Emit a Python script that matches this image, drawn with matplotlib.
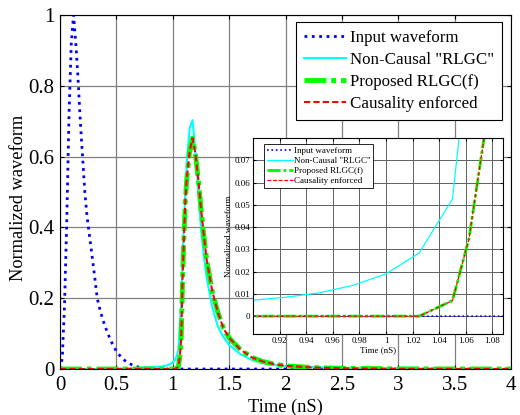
import matplotlib
matplotlib.use("Agg")
import matplotlib.pyplot as plt
from matplotlib.ticker import FuncFormatter

# Input waveform (blue dotted)
in_t = [0, 0.02, 0.04, 0.06, 0.08, 0.1, 0.12, 0.14, 0.16, 0.18, 0.2, 0.22, 0.24,
        0.26, 0.3, 0.33, 0.36, 0.4, 0.45, 0.5, 0.55, 0.6, 0.65, 0.7, 0.8, 0.9, 4.0]
in_v = [0, 0.03, 0.18, 0.42, 0.72, 0.92, 1.0, 0.92, 0.82, 0.7, 0.6, 0.5, 0.43,
        0.38, 0.28, 0.2, 0.16, 0.12, 0.08, 0.05, 0.03, 0.018, 0.01, 0.005, 0.001, 0, 0]

# Non-causal RLGC (cyan)
nc_t = [0, 0.3, 0.5, 0.7, 0.8, 0.9, 0.925, 0.95, 0.975, 1.0, 1.025, 1.05, 1.075,
        1.1, 1.125, 1.15, 1.175, 1.2, 1.225, 1.25, 1.275, 1.3, 1.35, 1.4, 1.45,
        1.5, 1.6, 1.7, 1.8, 1.9, 2.0, 2.5, 3.0, 4.0]
nc_v = [0, 0, 0.001, 0.003, 0.005, 0.0072, 0.0085, 0.0105, 0.0138, 0.019, 0.0284,
        0.0526, 0.19, 0.42, 0.59, 0.68, 0.703, 0.62, 0.51, 0.40, 0.32, 0.26, 0.175,
        0.12, 0.09, 0.068, 0.042, 0.026, 0.017, 0.011, 0.008, 0.003, 0.001, 0]

# Proposed RLGC(f) and causality enforced (same response)
out_t = [0, 0.5, 1.0, 1.025, 1.05, 1.0625, 1.075, 1.0875, 1.1, 1.1125, 1.125, 1.15,
         1.175, 1.2, 1.225, 1.25, 1.275, 1.3, 1.35, 1.4, 1.45, 1.5, 1.6, 1.7, 1.8,
         1.9, 2.0, 2.25, 2.5, 3.0, 4.0]
out_v = [0, 0, 0, 0, 0.007, 0.035, 0.085, 0.26, 0.38, 0.48, 0.54, 0.615,
         0.652, 0.61, 0.54, 0.455, 0.38, 0.31, 0.22, 0.16, 0.115, 0.088, 0.055, 0.033,
         0.021, 0.014, 0.009, 0.004, 0.002, 0.0005, 0]

labels = ["Input waveform", 'Non-Causal "RLGC"', "Proposed RLGC(f)", "Causality enforced"]

plt.rcParams["font.family"] = ["Liberation Serif", "DejaVu Serif"]

fig = plt.figure(figsize=(5.2, 4.15), dpi=100)
ax = fig.add_axes([0.1154, 0.1108, 0.8673, 0.8531])


def draw(a, lw_scale=1.0):
    a.plot(in_t, in_v, color="#0000ff", linestyle=":", lw=2.0 * lw_scale, label=labels[0])
    a.plot(nc_t, nc_v, color="#00ffff", linestyle="-", lw=1.5 * lw_scale, label=labels[1])
    a.plot(out_t, out_v, color="#00ff00", lw=3.5 * lw_scale, dashes=(4.5, 1, 1, 1),
           label=labels[2])
    a.plot(out_t, out_v, color="#ff0000", lw=1.5 * lw_scale, dashes=(3, 1.5),
           label=labels[3])


draw(ax)
ax.set_xlim(0, 4)
ax.set_ylim(0, 1)
ax.set_xticks([0, 0.5, 1, 1.5, 2, 2.5, 3, 3.5, 4])
ax.set_yticks([0, 0.2, 0.4, 0.6, 0.8, 1])
fmt = FuncFormatter(lambda v, p: "%g" % v)
ax.xaxis.set_major_formatter(fmt)
ax.yaxis.set_major_formatter(fmt)
ax.grid(True, color="#808080", lw=0.9)
ax.tick_params(direction="in", top=True, right=True, labelsize=15, length=3)
ax.tick_params(axis="x", pad=5)
ax.tick_params(axis="y", pad=4)
ax.set_xlabel("Time (nS)", fontsize=13.2, labelpad=3)
ax.set_ylabel("Normalized waveform", fontsize=13.2)
ax.yaxis.set_label_coords(-0.073, 0.483)
leg = ax.legend(loc="upper right", bbox_to_anchor=(0.98, 0.98), borderaxespad=0,
                fontsize=12.2, fancybox=False, edgecolor="black", framealpha=1,
                handlelength=2.5, handletextpad=0.25, labelspacing=0.36,
                borderpad=0.45)
leg.get_frame().set_linewidth(0.8)

# Inset zoom on the onset of the response
ins = fig.add_axes([0.4865, 0.1952, 0.4808, 0.4723])
ins.set_facecolor("white")
draw(ins, 0.6)
ins.set_xlim(0.9, 1.088)
ins.set_ylim(-0.008, 0.08)
ins.set_xticks([0.92, 0.94, 0.96, 0.98, 1.0, 1.02, 1.04, 1.06, 1.08])
ins.set_yticks([0, 0.01, 0.02, 0.03, 0.04, 0.05, 0.06, 0.07])
ins.xaxis.set_major_formatter(fmt)
ins.yaxis.set_major_formatter(fmt)
ins.grid(True, color="#606060", lw=0.7)
ins.tick_params(direction="in", top=True, right=True, labelsize=6.5, length=2, pad=2)
ins.set_xlabel("Time (nS)", fontsize=6.5, labelpad=1)
ins.set_ylabel("Normalized waveform", fontsize=6.5, labelpad=1)
ileg = ins.legend(loc="upper left", bbox_to_anchor=(0.044, 0.969), borderaxespad=0,
                  fontsize=6.5, fancybox=False, edgecolor="black", framealpha=1,
                  handlelength=2.9, handletextpad=0.1, labelspacing=0.2,
                  borderpad=0.3)
ileg.get_frame().set_linewidth(0.6)

fig.savefig("out.png", dpi=100)
